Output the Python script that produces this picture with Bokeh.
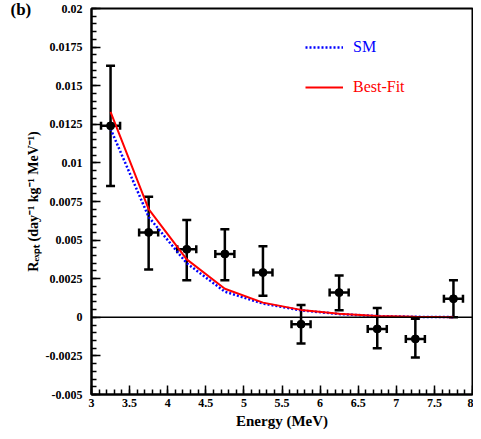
from bokeh.plotting import figure
from bokeh.models import (ColumnDataSource, Whisker, TeeHead, Span, FixedTicker,
                          Legend, LegendItem, Range1d, CustomJSTickFormatter)
from bokeh.embed import file_html
from bokeh.resources import INLINE

# ---------------- data ----------------
energy = [3.25, 3.75, 4.25, 4.75, 5.25, 5.75, 6.25, 6.75, 7.25, 7.75]
bin_half = [0.125, 0.125, 0.125, 0.125, 0.125, 0.125, 0.125, 0.125, 0.125, 0.125]
rate = [0.0124, 0.0055, 0.0044, 0.0041, 0.0029, -0.00045, 0.0016, -0.00075, -0.0014, 0.0012]
rate_hi = [0.0163, 0.0078, 0.0063, 0.0057, 0.0046, 0.0008, 0.0027, 0.0006, -0.0001, 0.0024]
rate_lo = [0.0085, 0.0031, 0.0024, 0.0024, 0.0014, -0.0017, 0.00045, -0.0020, -0.0026, 0.0]
sm_curve = [0.0122, 0.0065, 0.0035, 0.00166, 0.00089, 0.00045, 0.00021, 0.00008, 0.00003, 0.00001]
best_fit = [0.0133, 0.0070, 0.00375, 0.00185, 0.00095, 0.00048, 0.00023, 0.00009, 0.00004, 0.00001]

x_ticks = [3, 3.5, 4, 4.5, 5, 5.5, 6, 6.5, 7, 7.5, 8]
y_ticks = [-0.005, -0.0025, 0, 0.0025, 0.005, 0.0075, 0.01, 0.0125, 0.015, 0.0175, 0.02]
x_label = "Energy (MeV)"
y_label = "R\u2091\u2093\u209a\u209c (day\u207b\u00b9 kg\u207b\u00b9 MeV\u207b\u00b9)"
panel_tag = "(b)"
series_names = ["SM", "Best-Fit"]

FONT = "Liberation Serif"

src = ColumnDataSource(dict(
    x=energy, y=rate, hi=rate_hi, lo=rate_lo,
    xlo=[e - h for e, h in zip(energy, bin_half)],
    xhi=[e + h for e, h in zip(energy, bin_half)],
    sm=sm_curve, bf=best_fit,
))

p = figure(width=473, height=431, output_backend="svg", toolbar_location=None,
           x_range=Range1d(3, 8), y_range=Range1d(-0.005, 0.02),
           min_border_left=91, min_border_right=1, min_border_top=8, min_border_bottom=0)
p.background_fill_color = "white"
p.border_fill_color = "white"
p.outline_line_color = "black"
p.outline_line_width = 2
p.grid.visible = False

# panel tag as a title pulled to the top-left corner
p.title.text = panel_tag
p.title.align = "left"
p.title.offset = -81
p.title.standoff = -21
p.title.text_font = FONT
p.title.text_font_style = "bold"
p.title.text_font_size = "17px"
p.title.text_color = "black"

# axes
minor_x = [3 + 0.1 * i for i in range(51)]
minor_y = [-0.005 + 0.0005 * i for i in range(51)]
p.xaxis.ticker = FixedTicker(ticks=x_ticks, minor_ticks=minor_x)
p.yaxis.ticker = FixedTicker(ticks=y_ticks, minor_ticks=minor_y)
p.xaxis.formatter = CustomJSTickFormatter(code="return String(Number(tick.toPrecision(6)));")
p.yaxis.formatter = CustomJSTickFormatter(code="return String(Number(tick.toPrecision(6)));")
for ax in (p.xaxis[0], p.yaxis[0]):
    ax.axis_line_width = 2
    ax.major_tick_in = 9
    ax.major_tick_out = 0
    ax.minor_tick_in = 5
    ax.minor_tick_out = 0
    ax.major_tick_line_width = 1.5
    ax.minor_tick_line_width = 1.5
    ax.major_label_text_font = FONT
    ax.major_label_text_font_style = "bold"
    ax.major_label_text_font_size = "12px"
    ax.major_label_text_color = "black"
    ax.axis_label_text_font = FONT
    ax.axis_label_text_font_style = "bold"
    ax.axis_label_text_color = "black"
p.xaxis.axis_label = x_label
p.yaxis.axis_label = y_label
p.xaxis.axis_label_text_font_size = "15px"
p.yaxis.axis_label_text_font_size = "14px"
p.xaxis.major_label_standoff = 4
p.xaxis.axis_label_standoff = 3
p.yaxis.major_label_standoff = 9
p.yaxis.axis_label_standoff = 2

# zero line
p.add_layout(Span(location=0, dimension="width", line_color="black", line_width=1.5))

# curves
r_sm = p.line("x", "sm", source=src, line_color="blue", line_width=2.5, line_dash="2 2")
r_bf = p.line("x", "bf", source=src, line_color="red", line_width=2)

# error bars
p.add_layout(Whisker(source=src, base="x", upper="hi", lower="lo", dimension="height",
                     line_color="black", line_width=2.5,
                     upper_head=TeeHead(size=9, line_width=2.5, line_color="black"),
                     lower_head=TeeHead(size=9, line_width=2.5, line_color="black")))
p.add_layout(Whisker(source=src, base="y", upper="xhi", lower="xlo", dimension="width",
                     line_color="black", line_width=2.5,
                     upper_head=TeeHead(size=8, line_width=2.5, line_color="black"),
                     lower_head=TeeHead(size=8, line_width=2.5, line_color="black")))
p.scatter("x", "y", source=src, size=8, color="black")

# legends (one per item so each text gets its own color)
leg1 = Legend(items=[LegendItem(label=series_names[0], renderers=[r_sm])],
              location=(214, 337), label_text_color="blue")
leg2 = Legend(items=[LegendItem(label=series_names[1], renderers=[r_bf])],
              location=(214, 297), label_text_color="red")
for lg in (leg1, leg2):
    lg.border_line_color = None
    lg.background_fill_alpha = 0
    lg.padding = 0
    lg.margin = 0
    lg.glyph_width = 38
    lg.glyph_height = 20
    lg.label_height = 20
    lg.label_standoff = 10
    lg.label_text_font = FONT
    lg.label_text_font_size = "16px"
    p.add_layout(lg)

open("out.html", "w").write(file_html(p, INLINE))
